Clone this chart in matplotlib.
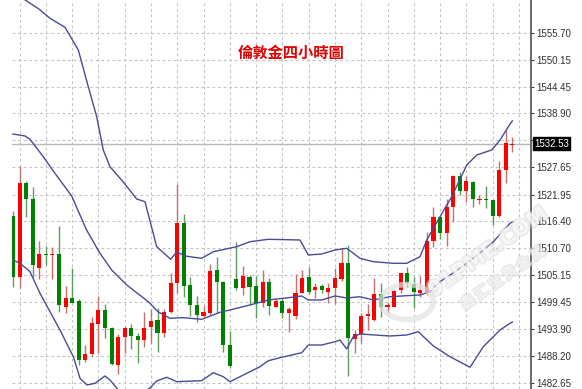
import matplotlib
matplotlib.use('Agg')
import matplotlib.pyplot as plt
import matplotlib.patheffects as pe
from matplotlib.patches import Circle

# 4小时K线 (开, 高, 低, 收)
opens = [1517.53, 1504.79, 1524.43, 1520.96, 1506.54, 1509.53, 1509.32, 1509.53, 1498.52, 1500.28,
         1499.71, 1487.39, 1488.64, 1494.91, 1497.83, 1494.14, 1486.35, 1492.13, 1494.14, 1492.47,
         1491.57, 1494.22, 1495.75, 1492.97, 1497.35, 1503.41, 1516.07, 1503.06, 1498.88, 1496.64,
         1497.27, 1506.19, 1503.75, 1490.52, 1504.25, 1502.37, 1504.79, 1502.91, 1499.23, 1503.75,
         1498.52, 1499.71, 1497.14, 1496.58, 1501.45, 1504.66, 1502.01, 1502.85, 1501.66, 1502.37,
         1504.31, 1507.71, 1491.78, 1492.82, 1496.58, 1495.75, 1501.18, 1498.40, 1498.52, 1502.01,
         1505.63, 1503.20, 1501.32, 1501.32, 1512.25, 1517.20, 1513.98, 1519.29, 1525.83, 1522.69,
         1524.63, 1520.87, 1521.02, 1520.81, 1517.47, 1527.08, 1532.35]
highs = [1518.58, 1527.91, 1524.78, 1523.46, 1512.31, 1511.27, 1511.06, 1515.38, 1502.91, 1506.54,
         1500.07, 1490.52, 1496.43, 1500.82, 1499.09, 1494.28, 1492.76, 1494.55, 1494.91, 1493.09,
         1497.48, 1497.98, 1498.19, 1498.04, 1505.63, 1524.09, 1517.82, 1504.79, 1500.86, 1498.67,
         1507.38, 1508.84, 1503.89, 1493.45, 1511.98, 1507.03, 1505.15, 1504.94, 1506.19, 1504.46,
         1500.07, 1500.40, 1498.52, 1505.35, 1506.19, 1506.88, 1503.41, 1503.20, 1503.41, 1506.54,
         1510.72, 1511.41, 1493.66, 1497.27, 1499.09, 1504.58, 1503.41, 1499.57, 1502.01, 1505.63,
         1506.75, 1504.79, 1504.94, 1514.19, 1519.41, 1517.40, 1521.02, 1526.00, 1526.72, 1525.83,
         1524.80, 1521.86, 1523.74, 1520.90, 1528.96, 1535.43, 1534.03]
lows = [1502.70, 1502.37, 1517.32, 1504.66, 1504.31, 1507.23, 1504.25, 1497.48, 1497.27, 1499.36,
        1486.35, 1486.97, 1488.23, 1488.79, 1491.92, 1486.35, 1484.47, 1488.79, 1489.62, 1486.70,
        1490.17, 1491.00, 1489.06, 1492.26, 1497.21, 1501.45, 1500.61, 1496.64, 1495.39, 1496.43,
        1496.79, 1497.14, 1489.00, 1485.66, 1502.01, 1500.97, 1498.88, 1496.10, 1498.52, 1496.79,
        1498.40, 1496.10, 1493.30, 1495.89, 1501.32, 1501.18, 1500.28, 1501.32, 1499.23, 1499.09,
        1503.96, 1484.11, 1488.79, 1490.88, 1493.66, 1495.60, 1496.43, 1497.14, 1498.40, 1501.32,
        1502.70, 1498.31, 1500.61, 1500.97, 1511.06, 1512.60, 1511.27, 1516.28, 1521.86, 1520.46,
        1519.29, 1519.98, 1519.20, 1515.59, 1517.26, 1524.43, 1530.78]
closes = [1504.79, 1524.43, 1520.96, 1507.23, 1509.53, 1509.26, 1509.53, 1498.88, 1500.28, 1499.36,
          1487.39, 1488.64, 1495.06, 1497.83, 1494.14, 1486.55, 1492.13, 1494.14, 1492.40, 1491.57,
          1494.14, 1495.54, 1492.97, 1497.48, 1503.54, 1516.07, 1502.85, 1498.88, 1496.73, 1497.48,
          1506.04, 1503.75, 1490.52, 1486.14, 1502.37, 1504.94, 1502.70, 1499.23, 1503.75, 1498.67,
          1499.71, 1497.14, 1497.98, 1501.32, 1504.58, 1501.66, 1502.70, 1502.01, 1502.49, 1504.46,
          1507.59, 1492.05, 1492.82, 1496.58, 1496.94, 1501.18, 1498.40, 1498.88, 1501.80, 1505.63,
          1503.41, 1501.66, 1502.01, 1512.31, 1517.32, 1513.98, 1519.29, 1525.83, 1522.69, 1524.78,
          1520.96, 1521.08, 1520.81, 1517.47, 1527.08, 1532.78, 1532.53]

# 布林带 (位置 = K线序号)
upper_pos = [0, 4.0, 5.63, 7.91, 9.94, 11.46, 12.74, 13.74, 14.76, 16.79,
             18.83, 20.09, 21.87, 24.0, 24.92, 26.18, 28.72, 30.49, 34.05, 36.07,
             38.86, 43.68, 44.95, 46.99, 49.01, 50.79, 52.82, 54.84, 57.88, 59.92,
             61.95, 62.97, 64.99, 66.77, 69.06, 70.58, 72.86, 74.13, 75.65, 76]
upper_val = [1564.26, 1560.65, 1558.77, 1556.89, 1552.15, 1544.48, 1538.21, 1531.26, 1527.77, 1524.57,
             1521.02, 1520.46, 1511.06, 1508.43, 1510.01, 1509.11, 1508.63, 1510.01, 1511.06, 1512.10,
             1512.60, 1512.46, 1509.32, 1509.53, 1510.37, 1510.72, 1508.63, 1507.92, 1507.59, 1507.59,
             1508.97, 1512.46, 1517.32, 1521.50, 1528.12, 1530.21, 1531.26, 1533.35, 1536.69, 1537.32]
mid_pos = [0, 1.83, 2.59, 4.61, 6.13, 8.93, 11.2, 13.24, 15.02, 17.31,
           20.59, 22.12, 23.9, 25.92, 28.72, 31.51, 34.05, 36.07, 38.86, 41.9,
           43.94, 44.95, 46.99, 49.01, 50.79, 52.82, 54.84, 57.38, 59.92, 61.95,
           63.47, 64.99, 68.04, 70.58, 73.11, 75.65, 76]
mid_val = [1534.60, 1534.18, 1533.49, 1529.86, 1526.87, 1521.65, 1514.55, 1509.68, 1506.19, 1503.06,
           1499.57, 1497.42, 1496.10, 1496.23, 1495.89, 1497.35, 1498.19, 1498.88, 1499.92, 1500.40,
           1500.76, 1499.92, 1499.92, 1500.76, 1500.34, 1500.61, 1499.92, 1500.61, 1500.82, 1500.97,
           1501.66, 1503.75, 1506.54, 1509.21, 1512.10, 1515.95, 1516.22]
lower_pos = [0, 1.07, 2.59, 4.11, 7.15, 9.18, 10.2, 11.26, 12.48, 14.0,
             14.76, 16.29, 19.33, 20.85, 21.87, 23.39, 24.92, 28.72, 30.49, 32.0,
             33.03, 34.55, 37.6, 38.86, 40.9, 43.94, 44.95, 46.99, 49.01, 49.77,
             50.79, 51.8, 52.82, 57.38, 59.92, 61.69, 63.97, 66.51, 69.56, 71.58,
             74.13, 75.65, 76]
lower_val = [1508.28, 1507.59, 1505.84, 1501.32, 1493.66, 1488.08, 1483.57, 1482.17, 1482.52, 1484.05,
             1483.21, 1480.71, 1480.29, 1481.54, 1483.00, 1483.78, 1482.86, 1483.07, 1484.74, 1483.90,
             1482.86, 1483.90, 1485.99, 1487.24, 1487.95, 1488.91, 1490.52, 1490.52, 1491.21, 1491.57,
             1489.69, 1492.26, 1492.82, 1492.40, 1492.61, 1493.30, 1490.32, 1488.08, 1485.87, 1490.17,
             1493.66, 1495.06, 1495.33]

price_ticks = [1555.70, 1550.15, 1544.45, 1538.90, 1533.35, 1527.65, 1521.95, 1516.40,
               1510.70, 1505.15, 1499.45, 1493.90, 1488.20, 1482.65]
last_price = 1532.53
title = '倫敦金四小時圖'

fig = plt.figure(figsize=(5.82, 3.89), dpi=100)
ax = fig.add_axes([12 / 582, 0, 519 / 582, 1])
ax.set_xlim(-0.15, 78.84)
ax.set_ylim(1481.33, 1562.59)

# 网格
for p in price_ticks:
    ax.axhline(p, color='#c4c4c4', lw=0.8, ls=(0, (2.5, 2.5)), zorder=0)
for g in range(1, 78, 4):
    ax.axvline(g, color='#c4c4c4', lw=0.8, ls=(0, (2.5, 2.5)), zorder=0)
ax.axhline(last_price, color='#b8b8b8', lw=1, zorder=1)

# 蜡烛
for i in range(len(opens)):
    o, h, l, c = opens[i], highs[i], lows[i], closes[i]
    if c >= o:
        col, wick = '#ff0000', '#c87070'
    else:
        col, wick = '#008000', '#5c9c5c'
    ax.vlines(i, l, h, color=wick, lw=1, zorder=2)
    ax.bar(i, max(abs(c - o), 0.2), bottom=min(o, c), width=0.62, color=col, zorder=3)

# 布林带
for pos, val in [(upper_pos, upper_val), (mid_pos, mid_val), (lower_pos, lower_val)]:
    ax.plot(pos, val, color='#4a4a98', lw=1, zorder=4)

# 右侧价格轴 (1533.35 被现价框挡住)
ax.yaxis.tick_right()
ax.set_yticks(price_ticks)
ax.set_yticklabels(['' if abs(p - last_price) < 2 else '%.2f' % p for p in price_ticks],
                   fontsize=7, family='Liberation Sans', color='#303030')
ax.tick_params(axis='y', length=2.5, pad=1.5, color='#404040')
ax.set_xticks([])
for s in ['left', 'top', 'bottom']:
    ax.spines[s].set_visible(False)
ax.spines['right'].set_color('#505050')
ax.spines['right'].set_linewidth(1.2)

ax.annotate('%.2f' % last_price, xy=(1.0 + 3 / 519, last_price), xycoords=('axes fraction', 'data'),
            fontsize=7, family='Liberation Sans', color='white', ha='left', va='center', zorder=10,
            bbox=dict(boxstyle='square,pad=0.15', fc='black', ec='black'), annotation_clip=False)

# 水印
wm = [pe.withStroke(linewidth=2.5, foreground='#dadada')]
fig.text(488 / 582, 1 - 252 / 389, '91PME.COM', fontsize=15, fontweight='bold', color='white',
         rotation=35, ha='center', va='center', alpha=0.55, path_effects=wm, zorder=20)
fig.text(503 / 582, 1 - 278 / 389, '鑫 汇 宝 贵 金 属', fontsize=10, color='white',
         family=['Noto Sans CJK SC', 'DejaVu Sans'], rotation=35, ha='center', va='center',
         alpha=0.55, path_effects=wm, zorder=20)
fig.add_artist(Circle((407 / 582, 1 - 302 / 389), 0.045, transform=fig.transFigure, fill=False,
                      ec='#e2e2e2', lw=4, alpha=0.7, zorder=19))

fig.text(290.7 / 582, 1 - 52.5 / 389, title, color='#e00000', fontsize=11, fontweight='bold',
         family=['Noto Sans CJK TC', 'DejaVu Sans'], ha='center', va='center')

fig.savefig('out.png', dpi=100)
